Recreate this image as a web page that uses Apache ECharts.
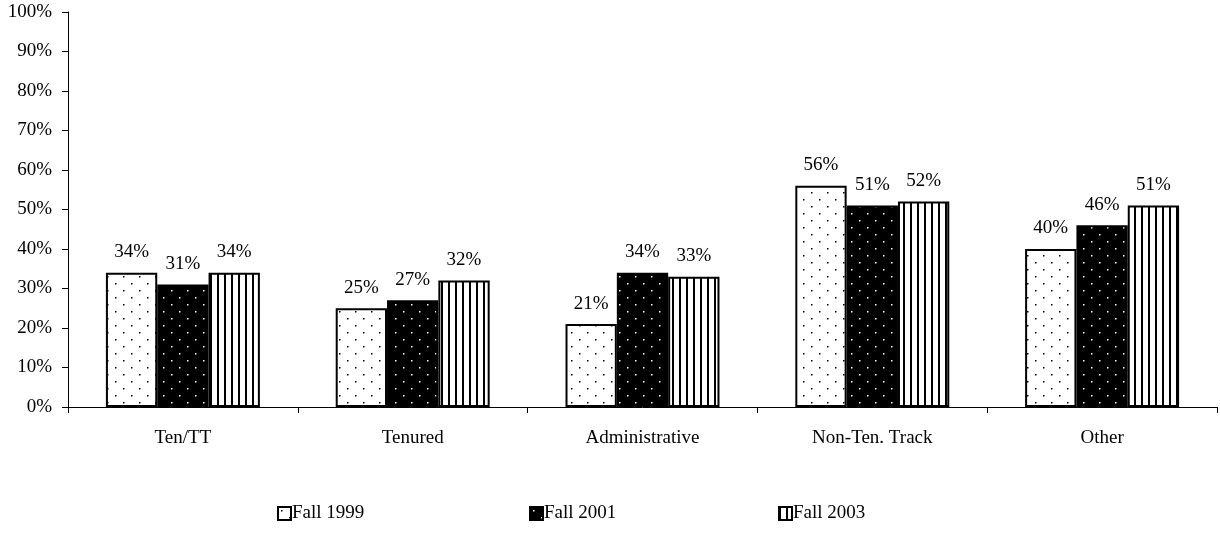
<!DOCTYPE html>
<html>
<head>
<meta charset="utf-8">
<script src="https://cdn.jsdelivr.net/npm/echarts@6/dist/echarts.min.js"></script>
<style>html,body{margin:0;padding:0;background:#fff;}#c{width:1220px;height:535px;}</style>
</head>
<body>
<div id="c"></div>
<script>
var categories = ['Ten/TT', 'Tenured', 'Administrative', 'Non-Ten. Track', 'Other'];
var seriesNames = ['Fall 1999', 'Fall 2001', 'Fall 2003'];
var fall1999 = [34, 25, 21, 56, 40];
var fall2001 = [31, 27, 34, 51, 46];
var fall2003 = [34, 32, 33, 52, 51];
var yTicks = [0, 10, 20, 30, 40, 50, 60, 70, 80, 90, 100];

function dotPattern(bg, fg) {
  var c = document.createElement('canvas');
  c.width = 16; c.height = 14;
  var g = c.getContext('2d');
  g.fillStyle = bg; g.fillRect(0, 0, 16, 14);
  g.fillStyle = fg;
  g.fillRect(3, 3, 1.5, 1.5);
  g.fillRect(11, 10, 1.5, 1.5);
  return { image: c, repeat: 'repeat' };
}
function stripePattern() {
  var c = document.createElement('canvas');
  c.width = 7; c.height = 7;
  var g = c.getContext('2d');
  g.fillStyle = '#fff'; g.fillRect(0, 0, 7, 7);
  g.fillStyle = '#000'; g.fillRect(0, 0, 2, 7);
  return { image: c, repeat: 'repeat' };
}
var fills = [dotPattern('#fff', '#000'), dotPattern('#000', '#fff'), stripePattern()];
var data = [fall1999, fall2001, fall2003];
var font = '"Liberation Serif", "Times New Roman", serif';

var chart = echarts.init(document.getElementById('c'));
var series = seriesNames.map(function (n, i) {
  return {
    name: n, type: 'bar', data: data[i],
    barGap: '0%', barCategoryGap: '33%',
    itemStyle: { color: fills[i], borderColor: '#000', borderWidth: 2 },
    label: { show: true, position: 'top', distance: 11, formatter: '{c}%', color: '#000', fontFamily: font, fontSize: 19 }
  };
});
var legendLefts = [272, 524, 773];
chart.setOption({
  animation: false,
  textStyle: { fontFamily: font },
  grid: { left: 68, right: 3, top: 12, bottom: 128, containLabel: false },
  xAxis: {
    type: 'category', data: categories,
    axisLine: { lineStyle: { color: '#000', width: 1 } },
    axisTick: { show: true, alignWithLabel: false, length: 6, lineStyle: { color: '#000' } },
    axisLabel: { color: '#000', fontFamily: font, fontSize: 19, margin: 22 }
  },
  yAxis: {
    type: 'value', min: yTicks[0], max: yTicks[yTicks.length - 1], interval: 10,
    axisLine: { show: true, lineStyle: { color: '#000' } },
    axisTick: { show: true, length: 6, lineStyle: { color: '#000' } },
    splitLine: { show: false },
    axisLabel: { color: '#000', fontFamily: font, fontSize: 19, margin: 16, formatter: '{value}%' }
  },
  legend: seriesNames.map(function (n, i) {
    return {
      data: [n], left: legendLefts[i], top: 499,
      icon: 'rect',
      itemWidth: 13, itemHeight: 13, itemGap: 2,
      textStyle: { color: '#000', fontFamily: font, fontSize: 19, padding: [0, 0, 0, -4] },
      selectedMode: false
    };
  }),
  series: series
});
</script>
</body>
</html>
